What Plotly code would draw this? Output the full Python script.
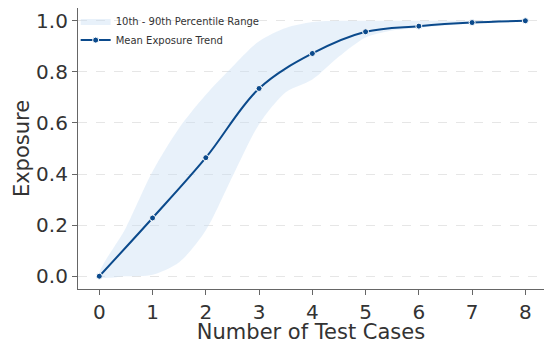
import plotly.graph_objects as go

# Data
test_cases = [0, 1, 2, 3, 4, 5, 6, 7, 8]
mean_exposure = [0.0, 0.228, 0.464, 0.735, 0.872, 0.957, 0.979, 0.993, 1.0]

band_x = [0, 0.5, 1, 1.5, 2, 2.5, 3, 3.5, 4, 4.5, 5, 5.5, 6, 7, 8]
p10 = [0.0, 0.0, 0.006, 0.055, 0.18, 0.39, 0.595, 0.72, 0.77, 0.86, 0.935, 0.962, 0.972, 0.99, 1.0]
p90 = [0.0, 0.19, 0.41, 0.58, 0.71, 0.82, 0.92, 0.972, 0.995, 1.0, 1.0, 1.0, 1.0, 1.0, 1.0]

x_ticks = [0, 1, 2, 3, 4, 5, 6, 7, 8]
y_ticks = [0.0, 0.2, 0.4, 0.6, 0.8, 1.0]
y_tick_labels = ["0.0", "0.2", "0.4", "0.6", "0.8", "1.0"]

LINE = "#0b4a8c"
FILL = "rgba(200,222,242,0.42)"
FONT = "DejaVu Sans"

poly_x = list(band_x) + list(reversed(band_x))
poly_y = list(p90) + list(reversed(p10))

fig = go.Figure()
fig.add_trace(go.Scatter(
    x=poly_x, y=poly_y, mode="lines", line=dict(width=0, shape="spline", smoothing=0.8),
    fill="toself", fillcolor=FILL, name="10th - 90th Percentile Range", hoverinfo="skip"))
fig.add_trace(go.Scatter(
    x=test_cases, y=mean_exposure, mode="lines+markers",
    line=dict(color=LINE, width=2, shape="spline", smoothing=1.0),
    marker=dict(size=6, color=LINE, line=dict(color="white", width=1)),
    name="Mean Exposure Trend"))

fig.update_layout(
    width=544, height=344,
    margin=dict(l=78, r=0, t=8, b=55, autoexpand=False),
    paper_bgcolor="white", plot_bgcolor="white",
    font=dict(family=FONT, color="#333333"),
    legend=dict(x=-0.005, y=1.005, xanchor="left", yanchor="top", traceorder="normal",
                bgcolor="rgba(0,0,0,0)", font=dict(size=10, color="#333333"),
                itemwidth=30, tracegroupgap=0),
    xaxis=dict(range=[-0.4, 8.35], tickvals=x_ticks, showgrid=False, zeroline=False,
               automargin=False,
               showline=True, linecolor="#666666", linewidth=1.2,
               ticks="outside", ticklen=5, tickcolor="#666666",
               tickfont=dict(size=20, family=FONT, color="#333333"),
               title=dict(text="Number of Test Cases", font=dict(size=21, family=FONT, color="#333333"), standoff=4)),
    yaxis=dict(range=[-0.05, 1.05], tickvals=y_ticks, ticktext=y_tick_labels,
               automargin=False,
               showgrid=True, gridcolor="#e6e6e6", griddash="dash", gridwidth=1,
               zeroline=False, showline=True, linecolor="#666666", linewidth=1.2,
               ticks="outside", ticklen=5, tickcolor="#666666",
               tickfont=dict(size=20, family=FONT, color="#333333"),
               title=dict(text="Exposure", font=dict(size=21, family=FONT, color="#333333"), standoff=0)),
)

fig.write_html("out.html", config={"displayModeBar": False},
               post_script="document.body.style.margin='0';document.body.style.overflow='hidden';")
